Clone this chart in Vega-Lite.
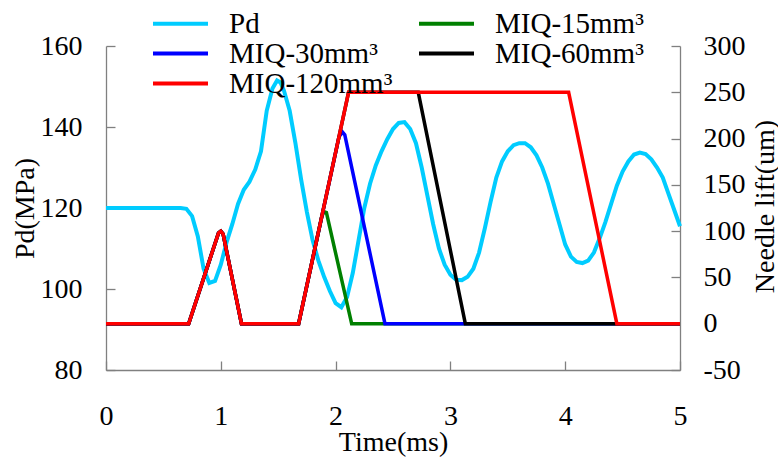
{
  "$schema": "https://vega.github.io/schema/vega-lite/v6.json",
  "width": 574,
  "height": 324,
  "autosize": "none",
  "padding": {"left": 106, "top": 46, "right": 98, "bottom": 90},
  "background": "white",
  "config": {
    "view": {"stroke": null},
    "font": "Liberation Serif",
    "style": {
      "guide-label": {"font": "Liberation Serif", "fontSize": 28, "fill": "black"},
      "guide-title": {"font": "Liberation Serif", "fontSize": 28, "fill": "black", "fontWeight": "normal"}
    },
    "axis": {
      "grid": false,
      "domainColor": "#808080",
      "tickColor": "#808080",
      "domainWidth": 1.3,
      "tickWidth": 1.3,
      "tickSize": -9,
      "labelFont": "Liberation Serif",
      "titleFont": "Liberation Serif",
      "labelFontSize": 28,
      "titleFontSize": 28,
      "labelColor": "black",
      "titleColor": "black",
      "titleFontWeight": "normal",
      "labelFlush": false,
      "labelOverlap": false,
      "labelBound": false
    },
    "legend": {
      "orient": "none",
      "direction": "horizontal",
      "legendX": 47,
      "legendY": -37,
      "columns": 2,
      "padding": 0,
      "symbolType": "M-5,0H5",
      "symbolSize": 121,
      "symbolStrokeWidth": 4,
      "symbolOffset": 13,
      "labelOffset": 34,
      "labelFont": "Liberation Serif",
      "labelFontSize": 29,
      "labelColor": "black",
      "labelLimit": 400,
      "columnPadding": 18,
      "rowPadding": -3
    }
  },
  "data": {
    "values": [
      {"series": "Pd", "t": 0, "v": 120},
      {"series": "Pd", "t": 0.65, "v": 120},
      {"series": "Pd", "t": 0.7, "v": 119.8},
      {"series": "Pd", "t": 0.75, "v": 118},
      {"series": "Pd", "t": 0.8, "v": 113},
      {"series": "Pd", "t": 0.85, "v": 105},
      {"series": "Pd", "t": 0.9, "v": 101.5},
      {"series": "Pd", "t": 0.95, "v": 102},
      {"series": "Pd", "t": 1.0, "v": 106},
      {"series": "Pd", "t": 1.05, "v": 111.5},
      {"series": "Pd", "t": 1.1, "v": 116},
      {"series": "Pd", "t": 1.15, "v": 121},
      {"series": "Pd", "t": 1.2, "v": 124.5},
      {"series": "Pd", "t": 1.25, "v": 126.5},
      {"series": "Pd", "t": 1.3, "v": 129.5},
      {"series": "Pd", "t": 1.35, "v": 134},
      {"series": "Pd", "t": 1.4, "v": 144},
      {"series": "Pd", "t": 1.45, "v": 149.5},
      {"series": "Pd", "t": 1.49, "v": 151.5},
      {"series": "Pd", "t": 1.52, "v": 151},
      {"series": "Pd", "t": 1.55, "v": 149},
      {"series": "Pd", "t": 1.6, "v": 144},
      {"series": "Pd", "t": 1.65, "v": 136},
      {"series": "Pd", "t": 1.7, "v": 127},
      {"series": "Pd", "t": 1.75, "v": 119},
      {"series": "Pd", "t": 1.8, "v": 112},
      {"series": "Pd", "t": 1.85, "v": 107},
      {"series": "Pd", "t": 1.9, "v": 103},
      {"series": "Pd", "t": 1.95, "v": 99.5},
      {"series": "Pd", "t": 2.0, "v": 96.5},
      {"series": "Pd", "t": 2.05, "v": 95.5},
      {"series": "Pd", "t": 2.1, "v": 98},
      {"series": "Pd", "t": 2.15, "v": 104},
      {"series": "Pd", "t": 2.2, "v": 112},
      {"series": "Pd", "t": 2.25, "v": 120},
      {"series": "Pd", "t": 2.3, "v": 126},
      {"series": "Pd", "t": 2.35, "v": 130.5},
      {"series": "Pd", "t": 2.4, "v": 134},
      {"series": "Pd", "t": 2.45, "v": 137},
      {"series": "Pd", "t": 2.5, "v": 139.5},
      {"series": "Pd", "t": 2.55, "v": 141},
      {"series": "Pd", "t": 2.6, "v": 141.2},
      {"series": "Pd", "t": 2.65, "v": 139.5},
      {"series": "Pd", "t": 2.7, "v": 136},
      {"series": "Pd", "t": 2.75, "v": 130},
      {"series": "Pd", "t": 2.8, "v": 123},
      {"series": "Pd", "t": 2.85, "v": 116},
      {"series": "Pd", "t": 2.9, "v": 110},
      {"series": "Pd", "t": 2.95, "v": 106},
      {"series": "Pd", "t": 3.0, "v": 103.5},
      {"series": "Pd", "t": 3.05, "v": 102.3},
      {"series": "Pd", "t": 3.1, "v": 102.2},
      {"series": "Pd", "t": 3.15, "v": 103},
      {"series": "Pd", "t": 3.2, "v": 105},
      {"series": "Pd", "t": 3.25, "v": 109},
      {"series": "Pd", "t": 3.3, "v": 115},
      {"series": "Pd", "t": 3.35, "v": 121.5},
      {"series": "Pd", "t": 3.4, "v": 127.5},
      {"series": "Pd", "t": 3.45, "v": 131.5},
      {"series": "Pd", "t": 3.5, "v": 134},
      {"series": "Pd", "t": 3.55, "v": 135.5},
      {"series": "Pd", "t": 3.6, "v": 136},
      {"series": "Pd", "t": 3.65, "v": 136},
      {"series": "Pd", "t": 3.7, "v": 135},
      {"series": "Pd", "t": 3.75, "v": 133},
      {"series": "Pd", "t": 3.8, "v": 130},
      {"series": "Pd", "t": 3.85, "v": 126},
      {"series": "Pd", "t": 3.9, "v": 121},
      {"series": "Pd", "t": 3.95, "v": 116},
      {"series": "Pd", "t": 4.0, "v": 111},
      {"series": "Pd", "t": 4.05, "v": 108},
      {"series": "Pd", "t": 4.1, "v": 106.7},
      {"series": "Pd", "t": 4.15, "v": 106.4},
      {"series": "Pd", "t": 4.2, "v": 107},
      {"series": "Pd", "t": 4.25, "v": 109},
      {"series": "Pd", "t": 4.3, "v": 112.5},
      {"series": "Pd", "t": 4.35, "v": 116.5},
      {"series": "Pd", "t": 4.4, "v": 121},
      {"series": "Pd", "t": 4.45, "v": 125.5},
      {"series": "Pd", "t": 4.5, "v": 129},
      {"series": "Pd", "t": 4.55, "v": 131.5},
      {"series": "Pd", "t": 4.6, "v": 133.2},
      {"series": "Pd", "t": 4.65, "v": 133.7},
      {"series": "Pd", "t": 4.7, "v": 133.3},
      {"series": "Pd", "t": 4.75, "v": 132},
      {"series": "Pd", "t": 4.8, "v": 130},
      {"series": "Pd", "t": 4.85, "v": 127.5},
      {"series": "Pd", "t": 4.9, "v": 123.5},
      {"series": "Pd", "t": 4.95, "v": 119.5},
      {"series": "Pd", "t": 5.0, "v": 115.5},

      {"series": "MIQ-15mm³", "t": 0, "v": 0},
      {"series": "MIQ-15mm³", "t": 0.72, "v": 0},
      {"series": "MIQ-15mm³", "t": 0.98, "v": 98},
      {"series": "MIQ-15mm³", "t": 1.0, "v": 100},
      {"series": "MIQ-15mm³", "t": 1.02, "v": 97},
      {"series": "MIQ-15mm³", "t": 1.18, "v": 0},
      {"series": "MIQ-15mm³", "t": 1.678, "v": 0},
      {"series": "MIQ-15mm³", "t": 1.88, "v": 116},
      {"series": "MIQ-15mm³", "t": 1.9, "v": 121},
      {"series": "MIQ-15mm³", "t": 1.92, "v": 120},
      {"series": "MIQ-15mm³", "t": 2.14, "v": 0},
      {"series": "MIQ-15mm³", "t": 5, "v": 0},

      {"series": "MIQ-30mm³", "t": 0, "v": 0},
      {"series": "MIQ-30mm³", "t": 0.72, "v": 0},
      {"series": "MIQ-30mm³", "t": 0.98, "v": 98},
      {"series": "MIQ-30mm³", "t": 1.0, "v": 100},
      {"series": "MIQ-30mm³", "t": 1.02, "v": 97},
      {"series": "MIQ-30mm³", "t": 1.18, "v": 0},
      {"series": "MIQ-30mm³", "t": 1.678, "v": 0},
      {"series": "MIQ-30mm³", "t": 2.03, "v": 202},
      {"series": "MIQ-30mm³", "t": 2.06, "v": 207},
      {"series": "MIQ-30mm³", "t": 2.08, "v": 204},
      {"series": "MIQ-30mm³", "t": 2.43, "v": 0},
      {"series": "MIQ-30mm³", "t": 5, "v": 0},

      {"series": "MIQ-60mm³", "t": 0, "v": 0},
      {"series": "MIQ-60mm³", "t": 0.72, "v": 0},
      {"series": "MIQ-60mm³", "t": 0.98, "v": 98},
      {"series": "MIQ-60mm³", "t": 1.0, "v": 100},
      {"series": "MIQ-60mm³", "t": 1.02, "v": 97},
      {"series": "MIQ-60mm³", "t": 1.18, "v": 0},
      {"series": "MIQ-60mm³", "t": 1.678, "v": 0},
      {"series": "MIQ-60mm³", "t": 2.113, "v": 250},
      {"series": "MIQ-60mm³", "t": 2.72, "v": 250},
      {"series": "MIQ-60mm³", "t": 3.13, "v": 0},
      {"series": "MIQ-60mm³", "t": 5, "v": 0},

      {"series": "MIQ-120mm³", "t": 0, "v": 0},
      {"series": "MIQ-120mm³", "t": 0.72, "v": 0},
      {"series": "MIQ-120mm³", "t": 0.98, "v": 98},
      {"series": "MIQ-120mm³", "t": 1.0, "v": 100},
      {"series": "MIQ-120mm³", "t": 1.02, "v": 97},
      {"series": "MIQ-120mm³", "t": 1.18, "v": 0},
      {"series": "MIQ-120mm³", "t": 1.678, "v": 0},
      {"series": "MIQ-120mm³", "t": 2.113, "v": 250},
      {"series": "MIQ-120mm³", "t": 4.03, "v": 250},
      {"series": "MIQ-120mm³", "t": 4.45, "v": 0},
      {"series": "MIQ-120mm³", "t": 5, "v": 0}
    ]
  },
  "encoding": {
    "x": {
      "field": "t",
      "type": "quantitative",
      "scale": {"domain": [0, 5], "nice": false, "zero": false},
      "axis": {
        "values": [0, 1, 2, 3, 4, 5],
        "labelFont": "Liberation Serif",
        "labelFontSize": 28,
        "labelPadding": 41,
        "title": "Time(ms)",
        "titleX": 287,
        "titleY": 80,
        "titleAlign": "center",
        "titleBaseline": "alphabetic"
      }
    },
    "color": {
      "field": "series",
      "type": "nominal",
      "scale": {
        "domain": ["Pd", "MIQ-15mm³", "MIQ-30mm³", "MIQ-60mm³", "MIQ-120mm³"],
        "range": ["#00CCFF", "#008000", "#0000FF", "#000000", "#FF0000"]
      },
      "legend": {"title": null, "direction": "horizontal", "columns": 2, "labelFont": "Liberation Serif"}
    }
  },
  "layer": [
    {
      "transform": [{"filter": "datum.series == 'Pd'"}],
      "mark": {"type": "line", "strokeWidth": 4},
      "encoding": {
        "y": {
          "field": "v",
          "type": "quantitative",
          "scale": {"domain": [80, 160], "nice": false, "zero": false},
          "axis": {
            "orient": "left",
            "values": [80, 100, 120, 140, 160],
            "labelFont": "Liberation Serif",
            "labelFontSize": 28,
            "labelPadding": 33,
            "title": "Pd(MPa)",
            "titleAngle": 270,
            "titleX": -81,
            "titleY": 162,
            "titleAlign": "center",
            "titleBaseline": "middle"
          }
        }
      }
    },
    {
      "encoding": {
        "y": {
          "field": "v",
          "type": "quantitative",
          "scale": {"domain": [-50, 300], "nice": false, "zero": false},
          "axis": {
            "orient": "right",
            "values": [-50, 0, 50, 100, 150, 200, 250, 300],
            "labelExpr": "datum.value < 0 ? '-' + abs(datum.value) : '' + datum.value",
            "labelFont": "Liberation Serif",
            "labelFontSize": 28,
            "labelPadding": 32,
            "title": "Needle lift(um)",
            "titleAngle": 270,
            "titleX": 85,
            "titleY": 160,
            "titleAlign": "center",
            "titleBaseline": "middle"
          }
        }
      },
      "layer": [
        {
          "transform": [{"filter": "datum.series == 'MIQ-15mm³'"}],
          "mark": {"type": "line", "strokeWidth": 3.5}
        },
        {
          "transform": [{"filter": "datum.series == 'MIQ-30mm³'"}],
          "mark": {"type": "line", "strokeWidth": 3.5}
        },
        {
          "transform": [{"filter": "datum.series == 'MIQ-60mm³'"}],
          "mark": {"type": "line", "strokeWidth": 3.5}
        },
        {
          "transform": [{"filter": "datum.series == 'MIQ-120mm³'"}],
          "mark": {"type": "line", "strokeWidth": 3.5}
        }
      ]
    }
  ],
  "resolve": {"scale": {"y": "independent"}}
}
